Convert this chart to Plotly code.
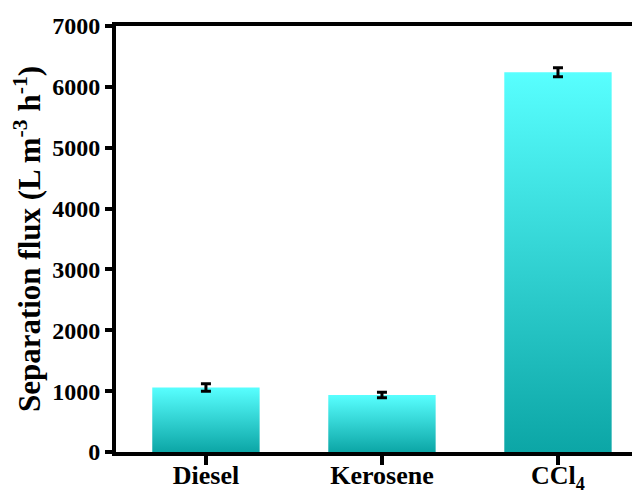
import plotly.graph_objects as go

categories = ["Diesel", "Kerosene", "CCl<sub>4</sub>"]
flux = [1060, 935, 6240]
flux_err = [60, 45, 75]
y_ticks = [0, 1000, 2000, 3000, 4000, 5000, 6000, 7000]

BAR_WIDTH = 0.61
TOP_COLOR = "rgb(88,255,255)"
BOTTOM_COLOR = "rgb(12,166,166)"
FONT = "Liberation Serif, Times New Roman, serif"

fig = go.Figure()
for i, (cat, v) in enumerate(zip(categories, flux)):
    x0, x1 = i - BAR_WIDTH / 2, i + BAR_WIDTH / 2
    fig.add_trace(go.Scatter(
        x=[x0, x1, x1, x0, x0],
        y=[0, 0, v, v, 0],
        mode="lines",
        line=dict(width=0),
        fill="toself",
        fillgradient=dict(type="vertical",
                          colorscale=[[0, BOTTOM_COLOR], [1, TOP_COLOR]],
                          start=0, stop=v),
        hoverinfo="skip",
        showlegend=False,
    ))

fig.add_trace(go.Scatter(
    x=list(range(len(categories))),
    y=flux,
    mode="markers",
    marker=dict(size=1, color="rgba(0,0,0,0)"),
    error_y=dict(type="data", array=flux_err, color="black", thickness=3, width=5),
    showlegend=False,
))

# the page places the figure 8px from the top-left corner
fig.update_layout(
    width=632, height=487,
    margin=dict(l=108, r=0, t=18, b=43),
    plot_bgcolor="white", paper_bgcolor="white",
    font=dict(family=FONT, color="black"),
    showlegend=False,
)
fig.update_xaxes(
    range=[-0.511, 2.466],
    tickvals=list(range(len(categories))),
    ticktext=categories,
    tickfont=dict(family=FONT, size=26, weight="bold", color="black"),
    showline=True, linecolor="black", linewidth=4, mirror=True,
    ticks="outside", ticklen=9, tickwidth=4, tickcolor="black",
    ticklabelstandoff=-12,
    showgrid=False, zeroline=False, automargin=False,
)
fig.update_yaxes(
    range=[0, 7000],
    tickvals=y_ticks,
    ticktext=[str(t) for t in y_ticks],
    tickfont=dict(family=FONT, size=24, weight="bold", color="black"),
    showline=True, linecolor="black", linewidth=4, mirror=False,
    ticks="outside", ticklen=7, tickwidth=4, tickcolor="black",
    showgrid=False, zeroline=False, automargin=False,
    title=dict(text="Separation flux (L m<sup>-3</sup> h<sup>-1</sup>)",
               font=dict(family=FONT, size=31, weight="bold", color="black"),
               standoff=8),
)

fig.write_html("out.html")
